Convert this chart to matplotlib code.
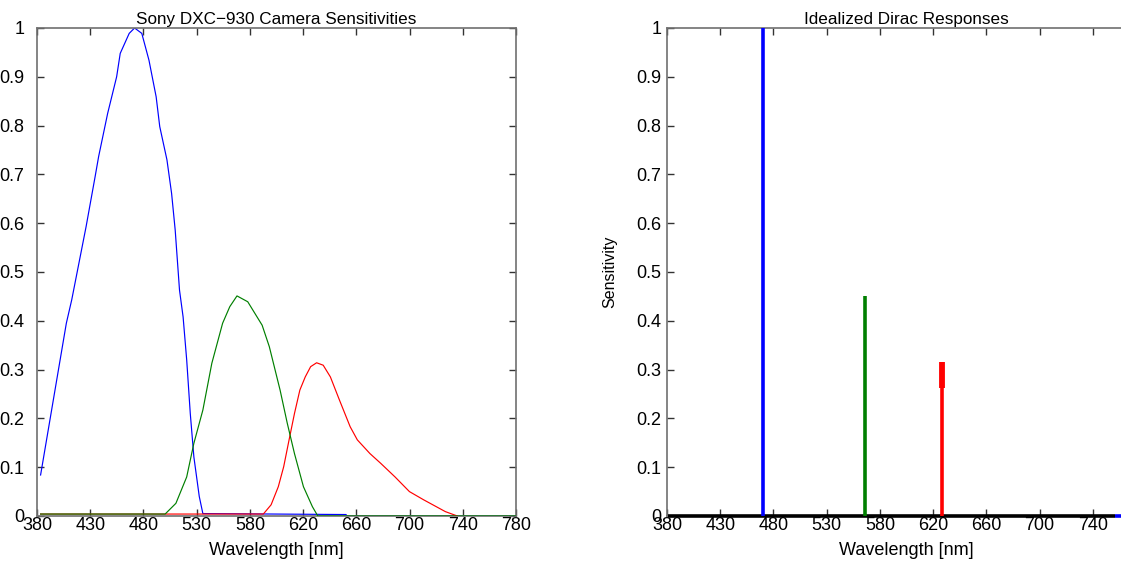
import matplotlib
matplotlib.use("Agg")
import matplotlib.pyplot as plt
import numpy as np
from matplotlib.ticker import FuncFormatter

plt.rcParams['font.family'] = ['Liberation Sans', 'DejaVu Sans']

# ---------------- data ----------------
# Left panel: camera sensitivities (wavelength in nm, normalized value)
blue_wl = [383, 404.5, 409, 421, 428.5, 431.5, 439, 446.5, 449.5, 457, 461.5, 467.5,
           473.5, 479.5, 482.5, 488.5, 492.4, 495.4, 499, 502, 505, 508, 511, 515.5,
           518.5, 638, 639, 780]
blue_val = [0.084, 0.395, 0.443, 0.593, 0.695, 0.737, 0.825, 0.90, 0.948, 0.989, 1.0, 0.989,
            0.934, 0.859, 0.798, 0.73, 0.661, 0.586, 0.463, 0.408, 0.32, 0.21, 0.121, 0.04,
            0.005, 0.003, 0.0, 0.0]

green_wl = [383, 487, 496, 505, 511, 518.5, 526, 535, 541, 547, 556, 568, 574, 583, 589,
            595, 602.5, 610, 614.5, 780]
green_val = [0.004, 0.004, 0.026, 0.08, 0.149, 0.217, 0.313, 0.395, 0.429, 0.451, 0.439,
             0.391, 0.347, 0.258, 0.19, 0.128, 0.06, 0.019, 0.0, 0.0]

red_wl = [383, 569, 575.5, 581.5, 586, 590.5, 595, 599.5, 604, 608.5, 613.5, 619, 625,
          632.5, 641.5, 647.5, 658, 667, 679, 691, 703, 721, 731]
red_val = [0.004, 0.004, 0.023, 0.06, 0.101, 0.156, 0.21, 0.258, 0.285, 0.306, 0.314,
           0.309, 0.285, 0.238, 0.183, 0.156, 0.128, 0.108, 0.08, 0.05, 0.033, 0.009, 0.0]

# Right panel: idealized Dirac responses
dirac_wl = [459.8, 545.6, 609.7]
dirac_val = [1.0, 0.45, 0.315]
dirac_colors = ['#0000ff', '#007f00', '#ff0000']
baseline_wl = [381, 754.5]
blue_tail_wl = [754.5, 780]
red_thick_range = [0.262, 0.315]

# Axis ticks (evenly spaced positions, labels as printed on the chart)
xlim = [380, 780]
xtick_labels = ['380', '430', '480', '530', '580', '620', '660', '700', '740', '780']
yticks = [0, 0.1, 0.2, 0.3, 0.4, 0.5, 0.6, 0.7, 0.8, 0.9, 1.0]

# ---------------- figure ----------------
W, H = 1121, 568
fig = plt.figure(figsize=(W / 100, H / 100), dpi=100)

axL = fig.add_axes([37 / W, (H - 516) / H, 479 / W, 488 / H])
axR = fig.add_axes([667 / W, (H - 516) / H, 479 / W, 488 / H])

spine_col = '#707070'
yfmt = FuncFormatter(lambda v, p: ('%g' % round(v, 2)))

for ax in (axL, axR):
    ax.set_xlim(xlim)
    ax.set_ylim(0, 1)
    xt = np.linspace(xlim[0], xlim[1], len(xtick_labels))
    ax.set_xticks(xt)
    ax.set_xticklabels(xtick_labels)
    ax.set_yticks(yticks)
    ax.yaxis.set_major_formatter(yfmt)
    ax.tick_params(direction='in', top=True, right=True, length=5, width=1,
                   color='#333333', labelsize=13, pad=0.5)
    for s in ax.spines.values():
        s.set_color(spine_col)
        s.set_linewidth(1.2)
    ax.set_xlabel('Wavelength [nm]', fontsize=13, labelpad=6)

axL.tick_params(axis='y', pad=9)
axR.tick_params(axis='y', pad=4)

# Left panel
axL.plot(blue_wl, blue_val, color='#0000ff', lw=0.85, zorder=2)
axL.plot(red_wl, red_val, color='#ff0000', lw=0.85, zorder=3)
axL.plot(green_wl, green_val, color='#007f00', lw=0.85, zorder=4)
axL.set_title('Sony DXC\u2212930 Camera Sensitivities', fontsize=12.3, pad=3)

# Right panel
axR.plot(baseline_wl, [0, 0], color='black', lw=2.6, zorder=3, solid_capstyle='butt',
         clip_on=False)
axR.plot(blue_tail_wl, [0, 0], color='#0000ff', lw=2.6, zorder=3, solid_capstyle='butt',
         clip_on=False)
for wl, v, c in zip(dirac_wl, dirac_val, dirac_colors):
    axR.plot([wl, wl], [0, v], color=c, lw=2.6, zorder=4, solid_capstyle='butt')
axR.plot([dirac_wl[2], dirac_wl[2]], red_thick_range, color=dirac_colors[2], lw=4.2,
         zorder=4, solid_capstyle='butt')
axR.set_title('Idealized Dirac Responses', fontsize=12.3, pad=3)
axR.set_ylabel('Sensitivity', fontsize=11.5)
axR.yaxis.set_label_coords(-0.104, 0.5)

fig.savefig('out.png', dpi=100)
